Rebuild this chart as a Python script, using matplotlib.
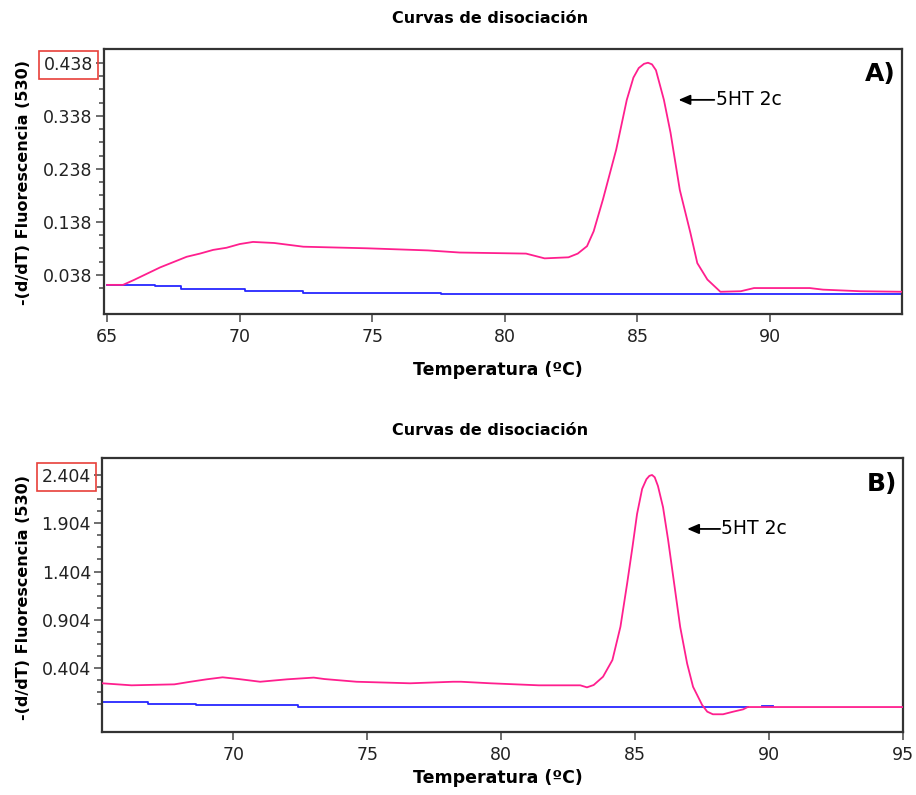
import matplotlib.pyplot as plt
import numpy as np
from matplotlib.ticker import FixedLocator, FormatStrFormatter

plt.rcParams.update({
    'font.family': ['DejaVu Sans'],
    'axes.linewidth': 1.6,
    'axes.edgecolor': '#333333',
    'xtick.color': '#555555',
    'ytick.color': '#555555',
    'xtick.labelcolor': '#222222',
    'ytick.labelcolor': '#222222',
})

PINK = '#ff1f8e'
BLUE = '#2626ff'

# ---- panel A data ----
temp_a_pink = [65.0, 65.6, 66.0, 66.5, 67.0, 67.5, 68.0, 68.5, 69.0, 69.5, 70.0, 70.5, 71.3,
               72.4, 74.8, 77.1, 78.3, 80.8, 81.5, 82.4, 82.75, 83.1, 83.35, 83.7, 84.2,
               84.6, 84.85, 85.05, 85.25, 85.4, 85.55, 85.7, 86.0, 86.25, 86.6, 87.0, 87.26,
               87.64, 88.13, 88.9, 89.4, 91.5, 92.0, 93.4, 95.0]
fluor_a_pink = [0.019, 0.019, 0.028, 0.040, 0.052, 0.062, 0.072, 0.078, 0.085, 0.089, 0.096,
                0.100, 0.098, 0.091, 0.088, 0.084, 0.080, 0.078, 0.069, 0.071, 0.078, 0.092,
                0.120, 0.180, 0.274, 0.368, 0.410, 0.428, 0.436, 0.438, 0.435, 0.424, 0.368,
                0.306, 0.198, 0.117, 0.060, 0.029, 0.006, 0.007, 0.013, 0.013, 0.010, 0.007,
                0.006]
temp_a_blue = [65.0, 66.8, 66.8, 67.8, 67.8, 70.2, 70.2, 72.4, 72.4, 77.6, 77.6, 95.0]
fluor_a_blue = [0.019, 0.019, 0.016, 0.016, 0.012, 0.012, 0.008, 0.008, 0.004, 0.004,
                0.002, 0.002]

# ---- panel B data ----
temp_b_pink = [65.1, 66.2, 67.8, 68.4, 69.0, 69.6, 70.2, 71.0, 72.0, 73.0, 73.4, 74.6,
               76.6, 78.2, 78.5, 79.6, 81.4, 82.95, 83.2, 83.45, 83.8, 84.15, 84.45,
               84.7, 84.9, 85.07, 85.26, 85.42, 85.53, 85.63, 85.73, 85.85, 86.04, 86.23,
               86.42, 86.68, 86.94, 87.16, 87.5, 87.69, 87.9, 88.28, 88.66, 89.03, 89.2, 95.0]
fluor_b_pink = [0.246, 0.225, 0.235, 0.262, 0.287, 0.308, 0.290, 0.262, 0.287, 0.305,
                0.290, 0.262, 0.246, 0.262, 0.262, 0.246, 0.225, 0.225, 0.204, 0.228,
                0.314, 0.487, 0.832, 1.28, 1.66, 2.00, 2.26, 2.36, 2.395, 2.404, 2.38,
                2.29, 2.07, 1.73, 1.35, 0.83, 0.45, 0.21, 0.021, -0.048, -0.075, -0.075,
                -0.048, -0.024, 0.0, 0.0]
temp_b_blue = [65.1, 66.8, 66.8, 68.6, 68.6, 72.4, 72.4, 89.2, 89.2, 89.75, 90.15]
fluor_b_blue = [0.055, 0.055, 0.034, 0.034, 0.017, 0.017, 0.0, 0.0, np.nan, 0.013, 0.013]

# axis ticks
ticks_a = [0.038, 0.138, 0.238, 0.338, 0.438]
ticks_b = [0.404, 0.904, 1.404, 1.904, 2.404]
xticks_a = [65, 70, 75, 80, 85, 90]
xticks_b = [70, 75, 80, 85, 90, 95]

fig = plt.figure(figsize=(9.16, 7.95), dpi=100)
ax_a = fig.add_axes([0.1135, 0.605, 0.8712, 0.3334])
ax_b = fig.add_axes([0.1114, 0.0792, 0.8745, 0.3447])

panels = [
    (ax_a, temp_a_pink, fluor_a_pink, temp_a_blue, fluor_a_blue, (64.88, 94.98), (-0.036, 0.464),
     xticks_a, ticks_a, 0.025, 'A)', (86.55, 87.9, 0.368)),
    (ax_b, temp_b_pink, fluor_b_pink, temp_b_blue, fluor_b_blue, (65.1, 95.0), (-0.259, 2.58),
     xticks_b, ticks_b, 0.125, 'B)', (86.94, 88.17, 1.845)),
]

for ax, tp, fp, tb, fb, xl, yl, xt, yt, minor_step, tag, arr in panels:
    ax.plot(tb, fb, color=BLUE, lw=1.3, zorder=2)
    ax.plot(tp, fp, color=PINK, lw=1.3, zorder=3)
    ax.set_xlim(*xl)
    ax.set_ylim(*yl)
    ax.set_xticks(xt)
    ax.yaxis.set_major_locator(FixedLocator(yt))
    minors = np.arange(yt[-1], -0.001, -minor_step)
    ax.yaxis.set_minor_locator(FixedLocator(minors))
    ax.yaxis.set_major_formatter(FormatStrFormatter('%.3f'))
    ax.tick_params(axis='both', which='major', length=6, width=1.2, labelsize=12.5, pad=2)
    ax.tick_params(axis='y', which='minor', length=3.5, width=1.2)
    ax.tick_params(axis='x', pad=4)
    # red box around top label
    top_label = ax.get_yticklabels()[-1]
    top_label.set_bbox(dict(facecolor='none', edgecolor='#e8403a', linewidth=1.2, pad=3.5))
    ax.text(0.992, 0.95, tag, transform=ax.transAxes, ha='right', va='top',
            fontsize=18, fontweight='bold')
    x_head, x_tail, y_arr = arr
    ax.annotate('', xy=(x_head, y_arr), xytext=(x_tail, y_arr),
                arrowprops=dict(arrowstyle='-|>,head_length=0.7,head_width=0.3',
                                color='black', lw=1.3, shrinkA=0, shrinkB=0))
    ax.text(x_tail + 0.05, y_arr, '5HT 2c', ha='left', va='center', fontsize=13.5)

for y_title, y_xlabel, y_ylabel in [(0.977, 0.535, 0.77), (0.459, 0.021, 0.249)]:
    fig.text(0.535, y_title, 'Curvas de disociación', ha='center', va='center',
             fontsize=11.5, fontweight='bold')
    fig.text(0.543, y_xlabel, 'Temperatura (ºC)', ha='center', va='center',
             fontsize=12.5, fontweight='bold')
    fig.text(0.026, y_ylabel, '-(d/dT) Fluorescencia (530)', ha='center', va='center',
             rotation=90, fontsize=11.5, fontweight='bold')

fig.savefig('out.png', dpi=100, facecolor='white')
